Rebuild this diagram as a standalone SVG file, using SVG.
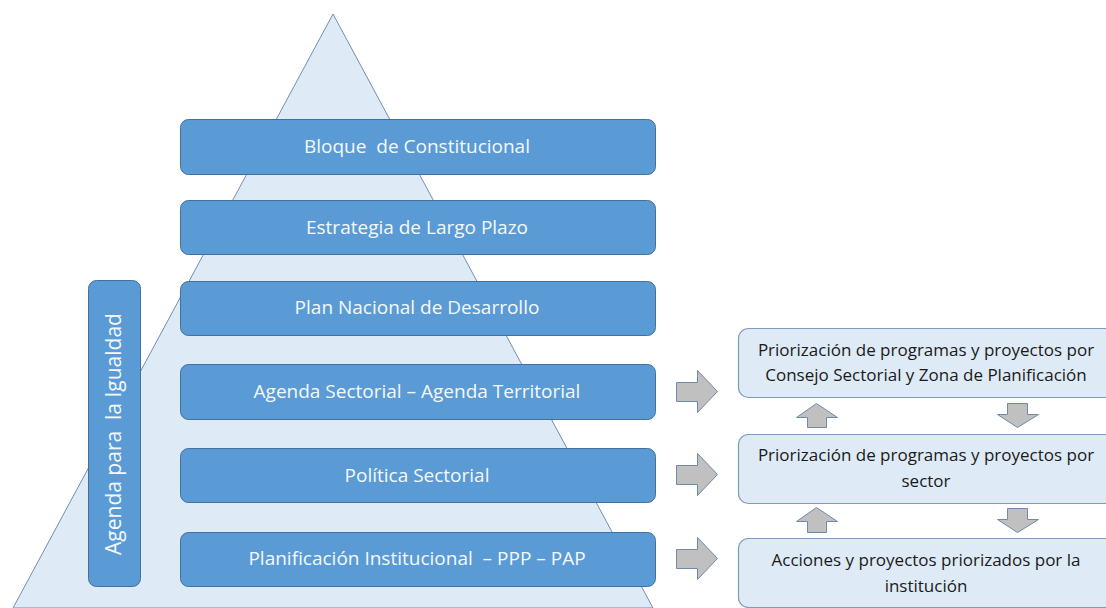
<svg xmlns="http://www.w3.org/2000/svg" width="1106" height="608" viewBox="0 0 1106 608">
<style>
.lvl{fill:#5B9BD5;stroke:#41719C;stroke-width:1}
.lt{fill:#F4F8FC;font-family:"Open Sans","Liberation Sans",sans-serif;font-size:19px;text-anchor:middle;white-space:pre}
.rb{fill:#DEEAF6;stroke:#7F9CBF;stroke-width:1.2}
.rt{fill:#1a1a1a;font-family:"Open Sans","Liberation Sans",sans-serif;font-size:17px;text-anchor:middle}
.ar{fill:#C0C0C0;stroke:#6F8AA8;stroke-width:1}
</style>
<rect width="1106" height="608" fill="#FFFFFF"/>
<g id="pyramid"><polygon points="333,14 653,608 13,608" fill="#DEEAF6" stroke="#6F8FB5" stroke-width="1"/></g>
<g id="n1"><rect class="lvl" x="180.5" y="119.5" width="475" height="55" rx="8"/><text class="lt" x="417" y="153">Bloque  de Constitucional</text></g>
<g id="n2"><rect class="lvl" x="180.5" y="200.5" width="475" height="54" rx="8"/><text class="lt" x="417" y="234">Estrategia de Largo Plazo</text></g>
<g id="n3"><rect class="lvl" x="180.5" y="281.5" width="475" height="54" rx="8"/><text class="lt" x="417" y="314">Plan Nacional de Desarrollo</text></g>
<g id="n4"><rect class="lvl" x="180.5" y="364.5" width="475" height="55" rx="8"/><text class="lt" x="417" y="398">Agenda Sectorial – Agenda Territorial</text></g>
<g id="n5"><rect class="lvl" x="180.5" y="448.5" width="475" height="54" rx="8"/><text class="lt" x="417" y="482">Política Sectorial</text></g>
<g id="n6"><rect class="lvl" x="180.5" y="532.5" width="475" height="54" rx="8"/><text class="lt" x="417" y="565">Planificación Institucional  – PPP – PAP</text></g>
<g id="agenda"><rect class="lvl" x="88.5" y="280.5" width="52" height="306" rx="8"/><text class="lt" style="font-size:21px" transform="translate(121,434) rotate(-90)" x="0" y="0">Agenda para  la Igualdad</text></g>
<g id="r1"><rect class="rb" x="738.5" y="328.5" width="380" height="69" rx="10"/><text class="rt" x="926" y="356">Priorización de programas y proyectos por</text><text class="rt" x="926" y="381">Consejo Sectorial y Zona de Planificación</text></g>
<g id="r2"><rect class="rb" x="738.5" y="434.5" width="380" height="69" rx="10"/><text class="rt" x="926" y="461">Priorización de programas y proyectos por</text><text class="rt" x="926" y="487">sector</text></g>
<g id="r3"><rect class="rb" x="738.5" y="538.5" width="380" height="69" rx="10"/><text class="rt" x="926" y="566">Acciones y proyectos priorizados por la</text><text class="rt" x="926" y="592">institución</text></g>
<g id="connectors">
<polygon class="ar" points="676.5,382.5 697.5,382.5 697.5,370.5 717.5,391.5 697.5,412.5 697.5,401.5 676.5,401.5"/>
<polygon class="ar" points="676.5,465.5 697.5,465.5 697.5,453.5 717.5,474.5 697.5,495.5 697.5,484.5 676.5,484.5"/>
<polygon class="ar" points="676.5,549.5 697.5,549.5 697.5,537.5 717.5,558.5 697.5,579.5 697.5,568.5 676.5,568.5"/>
<polygon class="ar" points="816.5,403.5 837.5,417.5 826.5,417.5 826.5,427.5 807.5,427.5 807.5,417.5 796.5,417.5"/>
<polygon class="ar" points="816.5,507.5 837.5,521.5 826.5,521.5 826.5,532.5 807.5,532.5 807.5,521.5 796.5,521.5"/>
<polygon class="ar" points="1007.5,403.5 1027.5,403.5 1027.5,414.5 1038.5,414.5 1017.5,427.5 997.5,414.5 1007.5,414.5"/>
<polygon class="ar" points="1007.5,508.5 1027.5,508.5 1027.5,519.5 1038.5,519.5 1017.5,532.5 997.5,519.5 1007.5,519.5"/>
</g>
</svg>
